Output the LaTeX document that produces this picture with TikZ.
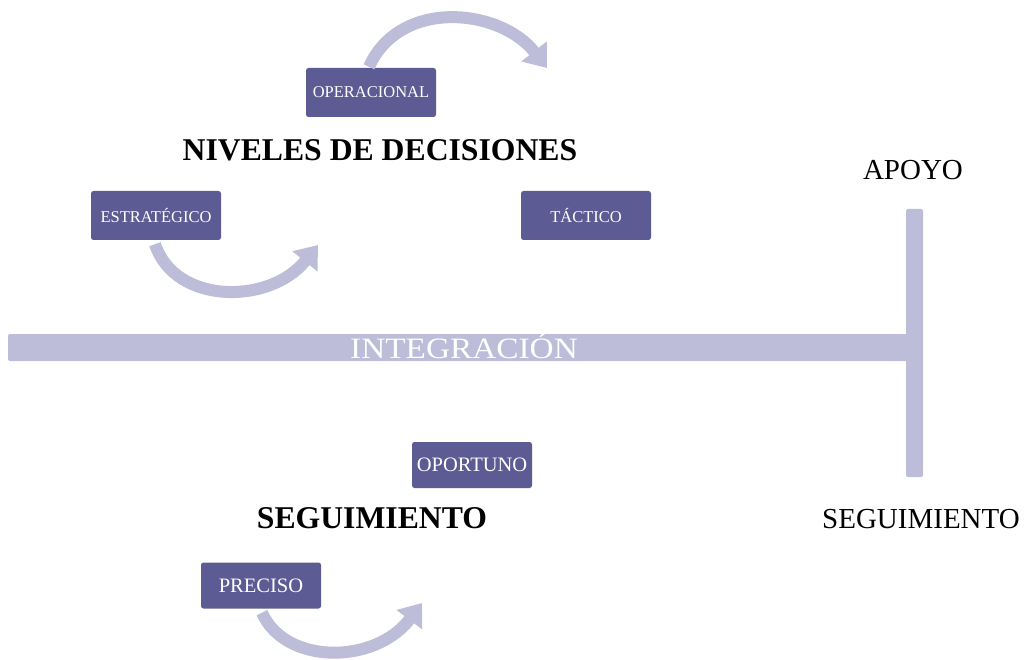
\documentclass[tikz,border=0pt]{standalone}
\usepackage{fontspec}
\setmainfont{Liberation Serif}
\usetikzlibrary{arrows.meta}
\definecolor{boxc}{RGB}{92,91,147}
\definecolor{barc}{RGB}{189,189,217}
\tikzset{
  lvlbox/.style={draw=none, fill=boxc, rounded corners=2.5pt, text=white, inner sep=0pt, align=center},
  upbox/.style={lvlbox, minimum width=130pt, minimum height=49pt, font=\fontsize{16.5}{16.5}\selectfont},
  lowbox/.style={lvlbox, minimum width=120pt, minimum height=46pt, font=\fontsize{20.5}{20.5}\selectfont},
  bigtitle/.style={font=\bfseries\fontsize{31.7}{32}\selectfont, inner sep=0pt},
  sidelabel/.style={font=\fontsize{29}{29}\selectfont, inner sep=0pt},
  bararrow/.style={draw=barc, line width=12pt, -{Triangle[width=31pt,length=21pt]}},
  barshape/.style={fill=barc, draw=none, rounded corners=2pt, inner sep=0pt}
}
\begin{document}
\begin{tikzpicture}[x=1pt, y=-1pt]
\useasboundingbox (0,0) rectangle (1028,660);
% bars
\node[barshape, minimum width=902pt, minimum height=27pt] (hbar) at (459,347.5) {};
\node[barshape, minimum width=17pt, minimum height=268pt] (vbar) at (914.5,343) {};
\node[anchor=base, inner sep=0pt, text=white, xscale=0.98, yscale=0.87, font=\fontsize{34}{34}\selectfont] (integ) at (464,358) {INTEGRACIÓN};
\node[sidelabel, anchor=base] (apoyo) at (913,180) {APOYO};
\node[sidelabel, anchor=base] (seg2) at (921,528) {SEGUIMIENTO};
% titles
\node[bigtitle] (niv) at (380,150) {NIVELES DE DECISIONES};
\node[bigtitle] (seg1) at (372,518) {SEGUIMIENTO};
% boxes
\node[upbox] (oper) at (371,92.5) {OPERACIONAL};
\node[upbox] (estr) at (156,215.5) {ESTRATÉGICO};
\node[upbox] (tact) at (586,215.5) {TÁCTICO};
\node[lowbox] (opor) at (472,465) {OPORTUNO};
\node[lowbox] (prec) at (261,585.5) {PRECISO};
% arrow ends
\coordinate (a1e) at (547,68);
\coordinate (a2e) at (318,245);
\coordinate (a3e) at (422,603);
\draw[bararrow] (oper.north) ++(-2,-1) .. controls (400,-2) and (500,8) .. (a1e);
\draw[bararrow] (estr.south) ++(-1,4) .. controls (175,305) and (270,305) .. (a2e);
\draw[bararrow] (prec.south) ++(1,4) .. controls (285,665) and (375,665) .. (a3e);
\end{tikzpicture}
\end{document}
